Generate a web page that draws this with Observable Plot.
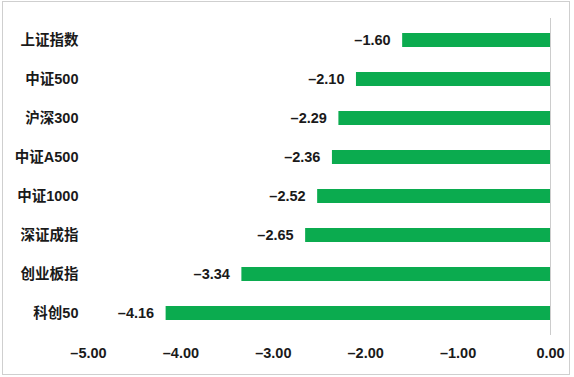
<!DOCTYPE html>
<html>
<head>
<meta charset="utf-8">
<script src="https://cdn.jsdelivr.net/npm/d3@7"></script>
<script src="https://cdn.jsdelivr.net/npm/@observablehq/plot@0.6"></script>
<style>
  html, body { margin: 0; padding: 0; background: #fff; }
  #wrap { position: relative; width: 574px; height: 377px; }
  #frame { position: absolute; left: 2px; top: 1px; width: 568px; height: 374px; border: 1px solid #cfcfcf; box-sizing: border-box; pointer-events: none; }
  #chart { position: absolute; left: 0; top: 0; }
</style>
</head>
<body>
<div id="wrap"><div id="chart"></div><div id="frame"></div></div>
<script>
const categories = ["上证指数", "中证500", "沪深300", "中证A500", "中证1000", "深证成指", "创业板指", "科创50"];
const values = [-1.60, -2.10, -2.29, -2.36, -2.52, -2.65, -3.34, -4.16];
const xTicks = [-5, -4, -3, -2, -1, 0];

const data = categories.map((c, i) => ({name: c, value: values[i]}));
const fmt = d => d === 0 ? "0.00" : (d < 0 ? "\u2013" : "") + Math.abs(d).toFixed(2);
const font = "'Liberation Sans', 'Noto Sans CJK SC', sans-serif";

const chart = Plot.plot({
  width: 574,
  height: 377,
  marginLeft: 88,
  marginRight: 24,
  marginTop: 18,
  marginBottom: 42,
  style: {fontFamily: font, fontSize: "14.5px", fontWeight: "bold", color: "#1a1a1a", background: "transparent"},
  x: {domain: [-5, 0], ticks: xTicks, tickFormat: fmt, label: null},
  y: {domain: categories, paddingInner: 0.64, paddingOuter: 0.32, label: null},
  marks: [
    Plot.ruleX([0], {stroke: "#cccccc", strokeWidth: 1}),
    Plot.barX(data, {x1: 0, x2: "value", y: "name", fill: "#0bab4f"}),
    Plot.text(data, {x: "value", y: "name", text: d => fmt(d.value), textAnchor: "end", dx: -12, fontSize: 14.5, fontWeight: "bold", fill: "#1a1a1a"}),
    Plot.axisX({ticks: xTicks, tickFormat: fmt, tickSize: 0, tickPadding: 12, label: null, fontSize: 14.5, fontWeight: "bold"}),
    Plot.axisY({tickSize: 0, tickPadding: 10, label: null, fontSize: 14.5, fontWeight: "bold"})
  ]
});
document.getElementById("chart").appendChild(chart);
</script>
</body>
</html>
